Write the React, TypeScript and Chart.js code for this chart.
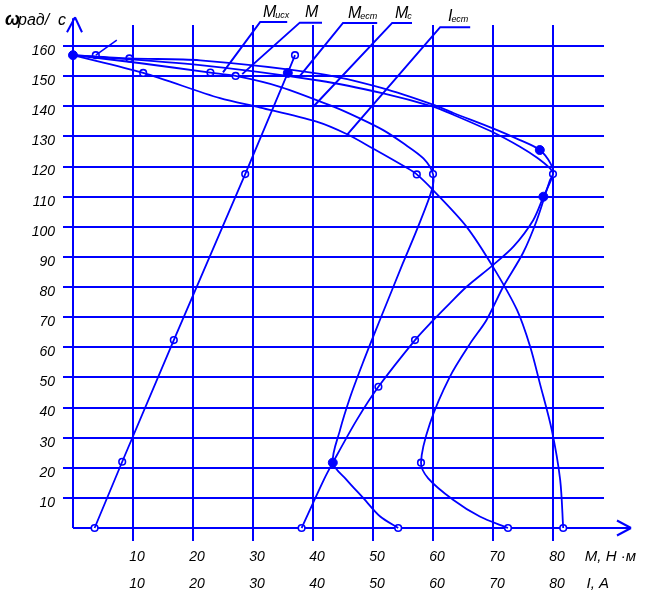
import React, { useEffect, useRef } from 'react';
import { Chart, registerables } from 'chart.js';

Chart.register(...registerables);

// ---------- data ----------
const yTicks = [10, 20, 30, 40, 50, 60, 70, 80, 90, 100, 110, 120, 130, 140, 150, 160];
const xTicks = [10, 20, 30, 40, 50, 60, 70, 80];
const xTickLabelsM = ['10', '20', '30', '40', '50', '60', '70', '80'];
const xTickLabelsI = ['10', '20', '30', '40', '50', '60', '70', '80'];

// steep line
const curveA_M = [3.6, 8.2, 16.8, 28.7, 35.8, 37.0];
const curveA_W = [0, 22, 62.4, 117.5, 151.1, 157];

// I_ест
const curveB_I = [0, 11.7, 24.5, 31.2, 40.6, 45.6, 50, 55.7, 57.3, 60, 65.6, 70, 74, 76.2, 77.8, 79.8, 81.2, 81.7];
const curveB_W = [157, 151.1, 142.7, 139.6, 134.9, 130.8, 126, 119.5, 117.4, 112.2, 100, 86.7, 72.4, 60.2, 48.1, 32.5, 15.9, 0];

const curveC_M = [0, 11, 22.9, 27.1, 34.5, 43.4, 47.8, 51.7, 55, 58.4, 60, 59.8, 57.3, 55, 52.5, 50, 48.3, 46.2, 44.5, 43.3, 45.6, 48.4, 51.2, 54.2];
const curveC_W = [157, 154.4, 151.2, 150.1, 146.5, 139.9, 136, 132.1, 127.8, 122.7, 117.5, 112.2, 99, 88, 75.7, 63.4, 54.8, 43.5, 32.5, 21.7, 16, 9.9, 3.8, 0];

const curveE_M = [0, 21.2, 41.2, 51.7, 60, 63.4, 70, 74.5, 77.3, 79.5, 80, 79.5, 77.3, 75, 71.7, 68.9, 66.2, 62.8, 59.5, 58, 59.2, 63.4, 67.8, 72.5];
const curveE_W = [157, 153.7, 148.5, 144.3, 139.9, 137.2, 131.4, 126.6, 123, 119.4, 117.5, 115.5, 102.2, 91.3, 80.1, 69, 61.3, 50.2, 34.8, 21.7, 16.5, 9.3, 3.8, 0];

const curveF_M = [0, 9.4, 21.2, 41.2, 51.7, 60, 63.4, 70, 74.5, 77.8, 79.6, 80, 78.4, 76.7, 73.4, 70, 65.6, 62.8, 59.8, 57, 50.9, 47.3, 43.3, 41.8, 38.1];
const curveF_W = [157, 155.9, 155.3, 150.8, 146, 140.6, 137.8, 132.7, 128.8, 125.5, 121, 117.5, 110, 102.2, 93.4, 87.3, 80.1, 74.6, 68.5, 62.4, 46.9, 35.9, 21.7, 16, 0];

const openM = [3.6, 8.2, 16.8, 28.7, 37.0, 3.8, 9.4, 11.7, 22.9, 27.1, 57.3, 60, 80, 57, 50.9, 58, 38.1, 54.2, 72.5, 81.7];
const openW = [0, 22, 62.4, 117.5, 157, 157, 155.9, 151.1, 151.2, 150.1, 117.4, 117.5, 117.5, 62.4, 46.9, 21.7, 0, 0, 0, 0];
const filledM = [0, 35.8, 77.8, 78.4, 43.3];
const filledW = [157, 151.1, 125.5, 110, 21.7];

// labels with leader lines (data coordinates)
const leaderMain = ['M', 'M', 'M', 'M', 'I'];
const leaderSub = ['исх', '', 'ест', 'с', 'ест'];
const leaderTextX = [31.67, 38.67, 45.83, 53.67, 62.5];
const leaderTextY = [169.7, 169.7, 169.5, 169.5, 168.3];
const underX1 = [31.2, 37.8, 45, 53.2, 61.2];
const underX2 = [35.7, 41.5, 50.7, 56.5, 66.2];
const underY = [168, 167.8, 167.7, 167.7, 166.3];
const leaderEndX = [25, 28.2, 37.8, 40, 45.7];
const leaderEndY = [151.3, 150.7, 150, 139.8, 130.6];

const BLUE = '#0000ff';
const FONT = '"Liberation Sans", Arial, sans-serif';

const pts = (xs: number[], ys: number[]) => xs.map((x, i) => ({ x, y: ys[i] }));

const drawPlugin = {
  id: 'customDraw',
  beforeDatasetsDraw(chart: any) {
    const { ctx } = chart;
    const xs = chart.scales.x;
    const ys = chart.scales.y;
    const X = (v: number) => xs.getPixelForValue(v);
    const Y = (v: number) => ys.getPixelForValue(v);
    ctx.save();
    ctx.strokeStyle = BLUE;
    ctx.lineWidth = 2;
    const seg = (a: number, b: number, c: number, d: number) => {
      ctx.beginPath();
      ctx.moveTo(a, b);
      ctx.lineTo(c, d);
      ctx.stroke();
    };
    const x0 = X(0);
    const y0 = Y(0);
    yTicks.forEach((v) => {
      const py = Math.round(Y(v));
      seg(x0 - 10, py, X(88.5), py);
    });
    xTicks.forEach((v) => {
      const px = Math.round(X(v));
      seg(px, Y(-4.3), px, Y(167));
    });
    // x axis with arrow
    const xe = X(93);
    seg(x0, Math.round(y0), xe, Math.round(y0));
    seg(xe - 14, Math.round(y0) - 7.5, xe, Math.round(y0));
    seg(xe - 14, Math.round(y0) + 7.5, xe, Math.round(y0));
    // y axis with arrow
    const ye = Y(169.6);
    seg(Math.round(x0), y0, Math.round(x0), ye + 1);
    seg(x0 - 6, ye + 15, x0 + 2, ye);
    seg(x0 + 9, ye + 15, x0 + 2, ye);
    ctx.restore();
  },
  afterDatasetsDraw(chart: any) {
    const { ctx } = chart;
    const xs = chart.scales.x;
    const ys = chart.scales.y;
    const X = (v: number) => xs.getPixelForValue(v);
    const Y = (v: number) => ys.getPixelForValue(v);
    ctx.save();
    // leader lines
    ctx.strokeStyle = BLUE;
    ctx.lineWidth = 2;
    for (let i = 0; i < leaderMain.length; i++) {
      ctx.beginPath();
      ctx.moveTo(X(underX2[i]), Y(underY[i]));
      ctx.lineTo(X(underX1[i]), Y(underY[i]));
      ctx.lineTo(X(leaderEndX[i]), Y(leaderEndY[i]));
      ctx.stroke();
    }
    // short pointer at top-left
    ctx.lineWidth = 1.5;
    ctx.beginPath();
    ctx.moveTo(X(3.8), Y(157));
    ctx.lineTo(X(7.3), Y(162));
    ctx.stroke();

    ctx.fillStyle = '#000';
    // leader texts
    ctx.textBaseline = 'alphabetic';
    ctx.textAlign = 'left';
    for (let i = 0; i < leaderMain.length; i++) {
      const tx = X(leaderTextX[i]);
      const ty = Y(leaderTextY[i]);
      ctx.font = `italic 16px ${FONT}`;
      ctx.fillText(leaderMain[i], tx, ty);
      const w = ctx.measureText(leaderMain[i]).width;
      if (leaderSub[i]) {
        ctx.font = `italic 9px ${FONT}`;
        ctx.fillText(leaderSub[i], tx + w - 1, ty + 1);
      }
    }
    // y tick labels
    ctx.font = `italic 14px ${FONT}`;
    ctx.textAlign = 'right';
    ctx.textBaseline = 'middle';
    yTicks.forEach((v) => {
      ctx.fillText(String(v), X(0) - 18, Y(v) + 5);
    });
    // x tick labels (two rows)
    ctx.textAlign = 'center';
    xTicks.forEach((v, i) => {
      ctx.fillText(xTickLabelsM[i], X(v) + 4, Y(0) + 29);
      ctx.fillText(xTickLabelsI[i], X(v) + 4, Y(0) + 56);
    });
    // axis titles
    ctx.textAlign = 'left';
    ctx.font = `italic 15px ${FONT}`;
    ctx.fillText('M, Н ·м', X(85.3), Y(0) + 29);
    ctx.fillText('I, A', X(85.6), Y(0) + 56);
    ctx.textBaseline = 'alphabetic';
    ctx.font = `italic bold 18px ${FONT}`;
    ctx.fillText('ω', 5, 25);
    ctx.font = `italic 16px ${FONT}`;
    ctx.fillText('рад/  с', 18, 25);
    ctx.restore();
  },
};

export default function App() {
  const ref = useRef<HTMLCanvasElement>(null);
  useEffect(() => {
    if (!ref.current) return;
    const line = (xs: number[], ys: number[], tension: number) => ({
      data: pts(xs, ys),
      showLine: true,
      borderColor: BLUE,
      borderWidth: 1.8,
      pointRadius: 0,
      tension,
      fill: false,
      clip: false as any,
    });
    const chart = new Chart(ref.current, {
      type: 'scatter',
      data: {
        datasets: [
          line(curveA_M, curveA_W, 0),
          line(curveB_I, curveB_W, 0.3),
          line(curveC_M, curveC_W, 0.3),
          line(curveE_M, curveE_W, 0.3),
          line(curveF_M, curveF_W, 0.3),
          {
            data: pts(openM, openW),
            showLine: false,
            pointRadius: 3.3,
            pointBorderWidth: 1.6,
            pointBorderColor: BLUE,
            pointBackgroundColor: '#ffffff',
            clip: false as any,
          },
          {
            data: pts(filledM, filledW),
            showLine: false,
            pointRadius: 4.5,
            pointBorderWidth: 1,
            pointBorderColor: BLUE,
            pointBackgroundColor: BLUE,
            clip: false as any,
          },
        ] as any,
      },
      options: {
        responsive: false,
        animation: false,
        events: [],
        layout: { padding: { left: 73, right: 14, top: 16, bottom: 72 } },
        scales: {
          x: { type: 'linear', min: 0, max: 93, display: false },
          y: { type: 'linear', min: 0, max: 170, display: false },
        },
        plugins: { legend: { display: false }, tooltip: { enabled: false } },
      } as any,
      plugins: [drawPlugin],
    });
    return () => chart.destroy();
  }, []);
  return (
    <div style={{ position: 'absolute', left: 0, top: 0, width: 645, height: 600, background: '#fff' }}>
      <canvas ref={ref} width={645} height={600} style={{ display: 'block' }} />
    </div>
  );
}
